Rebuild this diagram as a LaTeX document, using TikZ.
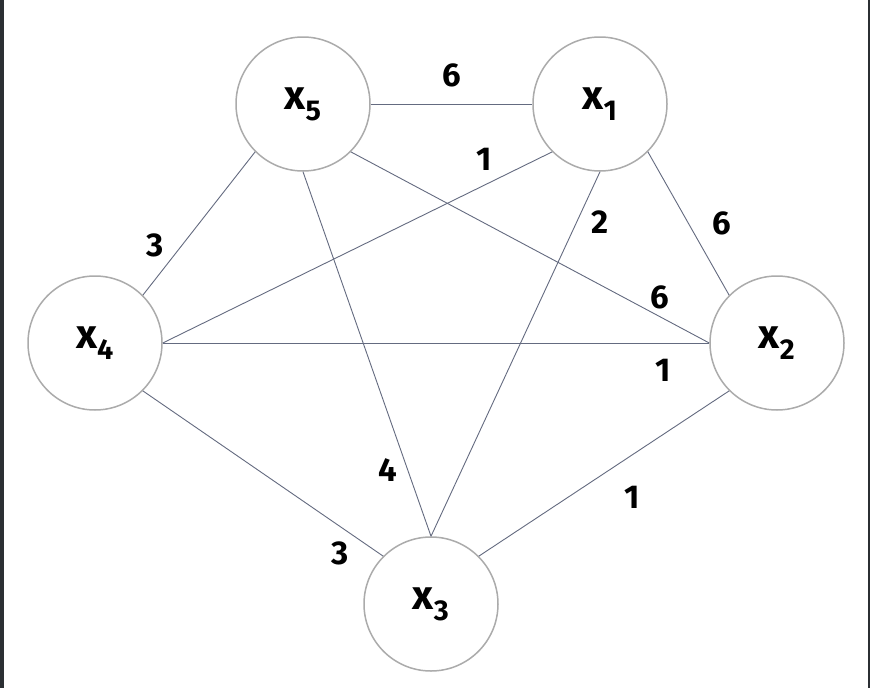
\documentclass[tikz,border=0pt]{standalone}
\usepackage{fontspec}
\setmainfont{Fira Sans}
\usepackage{tikz}

\definecolor{ringgray}{HTML}{ABABAB}
\definecolor{edgeslate}{HTML}{646B80}
\definecolor{framedark}{HTML}{2B2F33}

\begin{document}
\begin{tikzpicture}[x=1pt,y=-1pt,
	vertex/.style={circle,draw=ringgray,line width=1.5pt,fill=white,minimum size=134pt,inner sep=0pt,font=\fontsize{41}{41}\selectfont\bfseries},
	edge/.style={draw=edgeslate,line width=0.9pt},
	weight/.style={inner sep=0pt,font=\fontsize{33}{33}\selectfont\bfseries}]
	% frame
	\useasboundingbox (0,0) rectangle (870,688);
	\fill[white] (0,0) rectangle (870,688);
	\fill[framedark] (0,0) rectangle (4,688);
	\fill[framedark] (868,0) rectangle (870,688);
	% vertices
	\node[vertex](x5) at (303,104) {x\textsubscript{5}};
	\node[vertex](x1) at (600,104) {x\textsubscript{1}};
	\node[vertex](x4) at (95,343) {x\textsubscript{4}};
	\node[vertex](x2) at (777,343) {x\textsubscript{2}};
	\node[vertex](x3) at (431,604) {x\textsubscript{3}};
	% edges
	\draw[edge] (x5.east) -- (x1.west);
	\draw[edge] (x5.south west) -- (x4.north east);
	\draw[edge] (x5.south east) -- (x2.west);
	\draw[edge] (x5.south) -- (x3.north);
	\draw[edge] (x1.south west) -- (x4.east);
	\draw[edge] (x1.south) -- (x3.north);
	\draw[edge] (x1.south east) -- (x2.north west);
	\draw[edge] (x4.east) -- (x2.west);
	\draw[edge] (x4.south east) -- (x3.north west);
	\draw[edge] (x2.south west) -- (x3.north east);
	% weights
	\node[weight](w51) at (452,75) {6};
	\node[weight](w14) at (484,159) {1};
	\node[weight](w13) at (600,222) {2};
	\node[weight](w12) at (722,223) {6};
	\node[weight](w52) at (660,297) {6};
	\node[weight](w42) at (663,370) {1};
	\node[weight](w23) at (632,497) {1};
	\node[weight](w54) at (155,245) {3};
	\node[weight](w53) at (388,470) {4};
	\node[weight](w43) at (340,553) {3};
\end{tikzpicture}
\end{document}
